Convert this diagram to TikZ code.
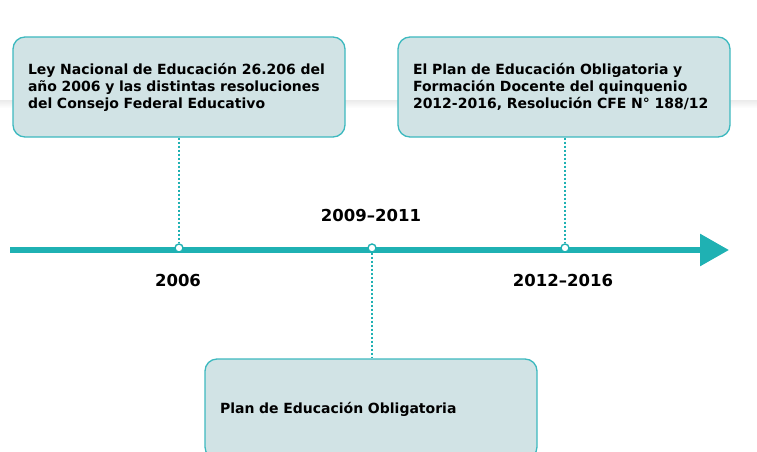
\documentclass[tikz,border=0pt]{standalone}
\usepackage{fontspec}
\setmainfont{DejaVu Sans}
\usetikzlibrary{arrows.meta}
\definecolor{lineaeje}{HTML}{1FB1B3}
\definecolor{fondocaja}{HTML}{D1E3E5}
\definecolor{bordecaja}{HTML}{3DB9BF}

\begin{document}
\begin{tikzpicture}[x=1pt,y=-1pt,
	caja/.style={draw=bordecaja,line width=1.3pt,fill=fondocaja,rounded corners=12pt,
		text width=302pt,inner xsep=15pt,inner ysep=0pt,minimum height=100pt,align=left,
		font=\fontsize{14}{17}\selectfont\bfseries},
	punto/.style={circle,draw=lineaeje,fill=white,line width=1.4pt,minimum size=8pt,inner sep=0pt},
	anio/.style={font=\fontsize{16.5}{20}\selectfont\bfseries},
	guia/.style={draw=lineaeje,line width=1.2pt,dash pattern=on 2pt off 2pt}]
	\useasboundingbox (0,0) rectangle (757,452);
	% faint band behind the boxes
	\shade[top color=black!8,bottom color=white] (0,100) rectangle (757,108);
	% boxes
	\node[caja] (ley) at (179,87) {Ley Nacional de Educación 26.206 del\\ a\~no 2006 y las distintas resoluciones\\ del Consejo Federal Educativo};
	\node[caja] (quinq) at (564,87) {El Plan de Educación Obligatoria y\\ Formación Docente del quinquenio\\ 2012-2016, Resolución CFE N\textdegree{} 188/12};
	\node[caja] (oblig) at (371,409) {Plan de Educación Obligatoria};
	% timeline
	\coordinate (inicio) at (10,250);
	\coordinate (fin) at (729,250);
	\draw[lineaeje,line width=6pt,-{Triangle[length=29pt,width=31pt]}] (inicio) -- (fin);
	\node[punto] (p1) at (179,248) {};
	\node[punto] (p2) at (372,248) {};
	\node[punto] (p3) at (565,248) {};
	\draw[guia] (ley.south -| p1) -- (p1.north);
	\draw[guia] (quinq.south -| p3) -- (p3.north);
	\draw[guia] (p2.south) -- (oblig.north -| p2);
	% years
	\node[anio] (a1) at (178,280) {2006};
	\node[anio] (a2) at (371,215) {2009--2011};
	\node[anio] (a3) at (563,280) {2012--2016};
\end{tikzpicture}
\end{document}
